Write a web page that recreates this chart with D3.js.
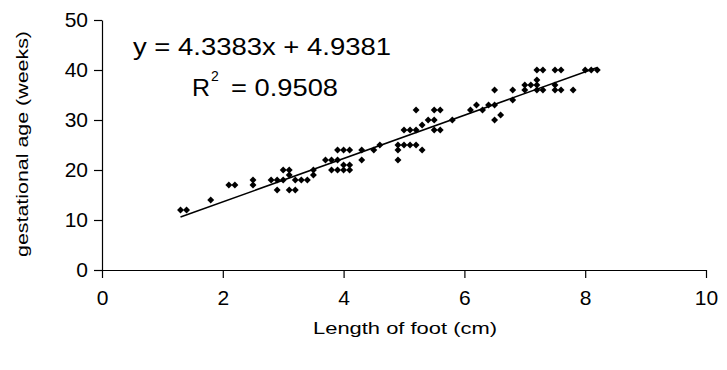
<!DOCTYPE html>
<html>
<head>
    <meta charset="utf-8">
    <script src="https://d3js.org/d3.v7.min.js"></script>
    <style>
        body { margin: 0; background: #fff; }
        svg { display: block; font-family: "Liberation Sans", Arial, sans-serif; }
    </style>
</head>
<body>
<svg id="chart"></svg>
<script>
    // foot length (cm) and gestational age (weeks)
    var footLength = [
        1.3, 1.4, 1.8, 2.1, 2.2, 2.5, 2.5, 2.8, 2.9, 3.0, 2.9, 3.0, 3.1, 3.1, 3.1, 3.2,
        3.2, 3.3, 3.4, 3.5, 3.5, 3.7, 3.8, 3.9, 3.8, 3.9, 4.0, 4.1, 3.9, 4.0, 4.1, 4.0,
        4.1, 4.3, 4.3, 4.5, 4.6, 4.9, 4.9, 4.9, 5.0, 5.1, 5.2, 5.0, 5.1, 5.2, 5.3, 5.3,
        5.2, 5.4, 5.5, 5.5, 5.6, 5.5, 5.6, 5.8, 6.1, 6.2, 6.3, 6.4, 6.5, 6.5, 6.5, 6.6,
        6.8, 6.8, 7.0, 7.0, 7.1, 7.2, 7.2, 7.2, 7.3, 7.2, 7.3, 7.5, 7.6, 7.5, 7.5, 7.6,
        7.8, 8.0, 8.1, 8.2
    ];
    var gestAge = [
        12, 12, 14, 17, 17, 18, 17, 18, 18, 18, 16, 20, 20, 19, 16, 16,
        18, 18, 18, 20, 19, 22, 22, 22, 20, 20, 20, 20, 24, 24, 24, 21,
        21, 24, 22, 24, 25, 25, 24, 22, 25, 25, 25, 28, 28, 28, 29, 24,
        32, 30, 30, 32, 32, 28, 28, 30, 32, 33, 32, 33, 33, 36, 30, 31,
        36, 34, 37, 36, 37, 38, 37, 36, 36, 40, 40, 40, 40, 37, 36, 36,
        36, 40, 40, 40
    ];
    var xTicks = [0, 2, 4, 6, 8, 10];
    var yTicks = [0, 10, 20, 30, 40, 50];
    var slope = 4.3383;
    var intercept = 4.9381;
    var rSquared = '0.9508';

    var width = 727;
    var height = 370;
    var margin = { top: 20, right: 21, bottom: 100, left: 102 };

    var svg = d3.select('#chart')
        .attr('width', width)
        .attr('height', height);

    var xScale = d3.scaleLinear()
        .domain([0, 10])
        .range([margin.left, width - margin.right]);

    var yScale = d3.scaleLinear()
        .domain([0, 50])
        .range([height - margin.bottom, margin.top]);

    svg.append('g')
        .attr('transform', 'translate(0,' + yScale(0) + ')')
        .call(d3.axisBottom(xScale).tickValues(xTicks).tickSize(8).tickPadding(12).tickSizeOuter(0));

    svg.append('g')
        .attr('transform', 'translate(' + xScale(0) + ',0)')
        .call(d3.axisLeft(yScale).tickValues(yTicks).tickSize(8).tickPadding(6).tickSizeOuter(0));

    svg.selectAll('.domain, .tick line')
        .attr('stroke', '#000')
        .attr('stroke-width', 1.2);
    svg.selectAll('.tick text')
        .attr('fill', '#000')
        .style('font-family', '"Liberation Sans", Arial, sans-serif')
        .style('font-size', '21px');

    // the original text looks stretched sideways, hence textLength
    svg.append('text')
        .attr('x', 405)
        .attr('y', 334)
        .attr('text-anchor', 'middle')
        .attr('textLength', 184)
        .attr('lengthAdjust', 'spacingAndGlyphs')
        .style('font-size', '17px')
        .text('Length of foot (cm)');

    svg.append('text')
        .attr('transform', 'translate(28,144) rotate(-90)')
        .attr('text-anchor', 'middle')
        .attr('textLength', 226)
        .attr('lengthAdjust', 'spacingAndGlyphs')
        .style('font-size', '17px')
        .text('gestational age (weeks)');

    // trend line over the range of the data
    var xMin = d3.min(footLength);
    var xMax = d3.max(footLength);
    svg.append('line')
        .attr('x1', xScale(xMin))
        .attr('y1', yScale(slope * xMin + intercept))
        .attr('x2', xScale(xMax))
        .attr('y2', yScale(slope * xMax + intercept))
        .attr('stroke', '#000')
        .attr('stroke-width', 1.6);

    var diamond = d3.symbol().type(d3.symbolSquare).size(24);
    svg.append('g')
        .selectAll('path')
        .data(footLength)
        .enter()
        .append('path')
        .attr('d', diamond)
        .attr('transform', function(d, i) {
            return 'translate(' + xScale(d) + ',' + yScale(gestAge[i]) + ') rotate(45)';
        })
        .attr('fill', '#000');

    svg.append('text')
        .attr('x', 133)
        .attr('y', 55)
        .attr('textLength', 258)
        .attr('lengthAdjust', 'spacingAndGlyphs')
        .style('font-size', '24px')
        .text('y = ' + slope + 'x + ' + intercept);

    svg.append('text')
        .attr('x', 192)
        .attr('y', 96)
        .attr('textLength', 18)
        .attr('lengthAdjust', 'spacingAndGlyphs')
        .style('font-size', '24px')
        .text('R');
    svg.append('text')
        .attr('x', 211)
        .attr('y', 81)
        .style('font-size', '14px')
        .text('2');
    svg.append('text')
        .attr('x', 231)
        .attr('y', 96)
        .attr('textLength', 107)
        .attr('lengthAdjust', 'spacingAndGlyphs')
        .style('font-size', '24px')
        .text('= ' + rSquared);
</script>
</body>
</html>
